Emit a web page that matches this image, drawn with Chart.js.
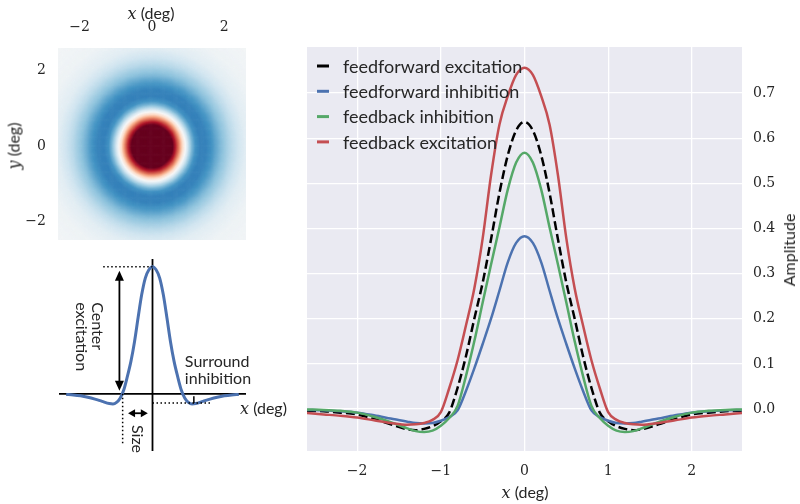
<!DOCTYPE html>
<html lang="en">
<head>
  <meta charset="UTF-8">
  <title>Center-surround receptive field profiles</title>
  <script src="https://cdn.jsdelivr.net/npm/chart.js"></script>
  <style>
    body {
      margin: 0;
      width: 800px;
      height: 504px;
      position: relative;
      overflow: hidden;
      background: #fff;
      font-family: Lato, sans-serif;
      color: #262626;
    }
    canvas { position: absolute; }
    .lbl {
      position: absolute;
      font-size: 16px;
      line-height: 1;
      white-space: nowrap;
    }
    .lbl i { font-family: "DejaVu Serif", serif; font-style: italic; }
  </style>
</head>
<body>
  <canvas id="heat" width="290" height="250" style="left:0;top:0"></canvas>
  <canvas id="schema" width="290" height="254" style="left:0;top:250px"></canvas>
  <canvas id="main" width="510" height="504" style="left:290px;top:0"></canvas>

  <!-- axis titles (math x/y in serif italic) -->
  <div class="lbl" style="left:151px;top:13px;transform:translate(-50%,-50%)"><i>x</i> (deg)</div>
  <div class="lbl" style="left:14px;top:146px;transform:translate(-50%,-50%) rotate(-90deg)"><i>y</i> (deg)</div>
  <div class="lbl" style="left:240px;top:408px;transform:translateY(-50%)"><i>x</i> (deg)</div>
  <div class="lbl" style="left:525px;top:492px;transform:translate(-50%,-50%)"><i>x</i> (deg)</div>
  <div class="lbl" style="left:789px;top:250px;transform:translate(-50%,-50%) rotate(-90deg)">Amplitude</div>

  <script>
    // ---- main panel data ----
    const xs = [-2.6, -2.4, -2.2, -2.0, -1.8, -1.6, -1.4, -1.3, -1.2, -1.1, -1.0, -0.9, -0.8, -0.7, -0.6, -0.5, -0.4, -0.3, -0.2, -0.1,
                0, 0.1, 0.2, 0.3, 0.4, 0.5, 0.6, 0.7, 0.8, 0.9, 1.0, 1.1, 1.2, 1.3, 1.4, 1.6, 1.8, 2.0, 2.2, 2.4, 2.6];
    const ffExcitation = [-0.004, -0.005, -0.008, -0.012, -0.022, -0.034, -0.045, -0.047, -0.044, -0.038, -0.027, -0.008, 0.047, 0.117, 0.200, 0.280, 0.376, 0.478, 0.562, 0.617,
                          0.636, 0.617, 0.562, 0.478, 0.376, 0.280, 0.200, 0.117, 0.047, -0.008, -0.027, -0.038, -0.044, -0.047, -0.045, -0.034, -0.022, -0.012, -0.008, -0.005, -0.004];
    const ffInhibition = [-0.002, -0.003, -0.005, -0.008, -0.014, -0.021, -0.028, -0.031, -0.032, -0.031, -0.026, -0.018, -0.003, 0.040, 0.090, 0.144, 0.200, 0.262, 0.325, 0.368,
                          0.383, 0.368, 0.325, 0.262, 0.200, 0.144, 0.090, 0.040, -0.003, -0.018, -0.026, -0.031, -0.032, -0.031, -0.028, -0.021, -0.014, -0.008, -0.005, -0.003, -0.002];
    const fbInhibition = [-0.001, -0.002, -0.004, -0.008, -0.017, -0.029, -0.043, -0.049, -0.051, -0.048, -0.037, -0.020, 0.007, 0.073, 0.150, 0.236, 0.320, 0.402, 0.486, 0.546,
                          0.568, 0.546, 0.486, 0.402, 0.320, 0.236, 0.150, 0.073, 0.007, -0.020, -0.037, -0.048, -0.051, -0.049, -0.043, -0.029, -0.017, -0.008, -0.004, -0.002, -0.001];
    const fbExcitation = [-0.009, -0.012, -0.015, -0.019, -0.025, -0.031, -0.035, -0.034, -0.031, -0.024, -0.007, 0.046, 0.108, 0.185, 0.267, 0.378, 0.518, 0.630, 0.693, 0.740,
                          0.756, 0.740, 0.693, 0.630, 0.518, 0.378, 0.267, 0.185, 0.108, 0.046, -0.007, -0.024, -0.031, -0.034, -0.035, -0.031, -0.025, -0.019, -0.015, -0.012, -0.009];
    const seriesNames = ["feedforward excitation", "feedforward inhibition", "feedback inhibition", "feedback excitation"];
    const mainXTicks = [-2, -1, 0, 1, 2];
    const mainYTicks = [0.0, 0.1, 0.2, 0.3, 0.4, 0.5, 0.6, 0.7];

    // ---- schematic profile (bottom left) ----
    const schemX = [-2.4, -2.2, -2.0, -1.8, -1.6, -1.4, -1.2, -1.1, -1.0, -0.9, -0.8, -0.7, -0.6, -0.5, -0.4, -0.3, -0.2, -0.1,
                    0, 0.1, 0.2, 0.3, 0.4, 0.5, 0.6, 0.7, 0.8, 0.9, 1.0, 1.1, 1.2, 1.4, 1.6, 1.8, 2.0, 2.2, 2.4];
    const schemY = [-0.005, -0.009, -0.016, -0.027, -0.042, -0.060, -0.077, -0.080, -0.068, -0.035, 0.030, 0.135, 0.255, 0.410, 0.600, 0.780, 0.910, 0.975,
                    1.0, 0.975, 0.910, 0.780, 0.600, 0.410, 0.255, 0.135, 0.030, -0.035, -0.068, -0.080, -0.077, -0.060, -0.042, -0.027, -0.016, -0.009, -0.005];

    // ---- heat map (top left): radial profile in colour-map units ----
    const heatRadius = [0, 0.50, 0.57, 0.65, 0.75, 0.85, 0.92, 1.00, 1.10, 1.20, 1.33, 1.50, 1.70, 1.90, 2.20, 2.60, 3.00, 3.80];
    const heatLevel  = [3.0, 1.10, 1.00, 0.80, 0.50, 0.18, 0.00, -0.22, -0.45, -0.60, -0.68, -0.67, -0.57, -0.44, -0.27, -0.11, -0.05, -0.02];
    const heatTicks = [-2, 0, 2];

    const TEXT = "#262626";
    const tickFont = { family: "DejaVu Serif", size: 14 };
    const minus = v => String(v).replace("-", "\u2212");

    // RdBu_r colour map
    const rdbuStops = ["#053061", "#2166ac", "#4393c3", "#92c5de", "#d1e5f0", "#f7f7f7",
                       "#fddbc7", "#f4a582", "#d6604d", "#b2182b", "#67001f"];
    const stopsRgb = rdbuStops.map(h => [1, 3, 5].map(i => parseInt(h.substr(i, 2), 16)));
    function rdbu(v) {
      v = Math.max(-1, Math.min(1, v));
      const t = (v + 1) / 2 * (stopsRgb.length - 1);
      const i = Math.min(Math.floor(t), stopsRgb.length - 2);
      const f = t - i;
      const a = stopsRgb[i], b = stopsRgb[i + 1];
      return "rgb(" + a.map((c, k) => Math.round(c + (b[k] - c) * f)).join(",") + ")";
    }
    function levelAt(r) {
      for (let i = 1; i < heatRadius.length; i++) {
        if (r <= heatRadius[i]) {
          const f = (r - heatRadius[i - 1]) / (heatRadius[i] - heatRadius[i - 1]);
          return heatLevel[i - 1] + f * (heatLevel[i] - heatLevel[i - 1]);
        }
      }
      return heatLevel[heatLevel.length - 1];
    }

    // Heat map cells, placed through the chart scales
    const heatPlugin = {
      id: "heatCells",
      beforeDatasetsDraw(chart) {
        const { ctx, chartArea: a, scales: { x, y } } = chart;
        const step = 0.03;
        ctx.save();
        ctx.beginPath();
        ctx.rect(a.left, a.top, a.right - a.left, a.bottom - a.top);
        ctx.clip();
        for (let gx = x.min; gx < x.max; gx += step) {
          const px0 = x.getPixelForValue(gx), px1 = x.getPixelForValue(gx + step);
          for (let gy = y.min; gy < y.max; gy += step) {
            const py0 = y.getPixelForValue(gy + step), py1 = y.getPixelForValue(gy);
            ctx.fillStyle = rdbu(levelAt(Math.hypot(gx + step / 2, gy + step / 2)));
            ctx.fillRect(px0, py0, px1 - px0 + 0.6, py1 - py0 + 0.6);
          }
        }
        ctx.restore();
      }
    };

    new Chart(document.getElementById("heat"), {
      type: "scatter",
      data: { datasets: [] },
      options: {
        responsive: false,
        animation: false,
        layout: { padding: { left: 0, top: 0, right: 44, bottom: 10 } },
        plugins: { legend: { display: false }, tooltip: { enabled: false } },
        scales: {
          x: {
            type: "linear", position: "top", min: -2.6, max: 2.6,
            afterBuildTicks: s => { s.ticks = heatTicks.map(v => ({ value: v })); },
            afterFit: s => { s.height = 48; s.paddingLeft = 0; s.paddingRight = 0; },
            grid: { display: false, drawTicks: false }, border: { display: false },
            ticks: { padding: 12, color: TEXT, font: tickFont, callback: v => minus(v) }
          },
          y: {
            type: "linear", position: "left", min: -2.5, max: 2.6,
            afterBuildTicks: s => { s.ticks = heatTicks.map(v => ({ value: v })); },
            afterFit: s => { s.width = 58; s.paddingTop = 0; s.paddingBottom = 0; },
            grid: { display: false, drawTicks: false }, border: { display: false },
            ticks: { padding: 12, color: TEXT, font: tickFont, callback: v => minus(v) }
          }
        }
      },
      plugins: [heatPlugin]
    });

    // ---- schematic annotations ----
    function arrowHead(ctx, x, y, dx, dy, len, half) {
      ctx.beginPath();
      ctx.moveTo(x, y);
      ctx.lineTo(x - dx * len - dy * half, y - dy * len + dx * half);
      ctx.lineTo(x - dx * len + dy * half, y - dy * len - dx * half);
      ctx.closePath();
      ctx.fill();
    }
    function line(ctx, x0, y0, x1, y1, dash) {
      ctx.setLineDash(dash || []);
      ctx.beginPath(); ctx.moveTo(x0, y0); ctx.lineTo(x1, y1); ctx.stroke();
    }
    const schemAxes = {
      id: "schemAxes",
      beforeDatasetsDraw(chart) {
        const { ctx, chartArea: a, scales: { x, y } } = chart;
        ctx.save();
        ctx.strokeStyle = "#000";
        ctx.lineWidth = 1.8;
        line(ctx, a.left, y.getPixelForValue(0), a.right, y.getPixelForValue(0));
        line(ctx, x.getPixelForValue(0), a.top, x.getPixelForValue(0), a.bottom);
        ctx.restore();
      },
      afterDatasetsDraw(chart) {
        const { ctx, scales: { x, y } } = chart;
        const peak = Math.max(...schemY), trough = Math.min(...schemY);
        const X = v => x.getPixelForValue(v), Y = v => y.getPixelForValue(v);
        ctx.save();
        ctx.strokeStyle = "#000";
        ctx.fillStyle = "#000";
        ctx.lineWidth = 1.5;
        const dots = [1.5, 2.5];
        // dotted guides
        line(ctx, X(-1.37), Y(peak), X(0), Y(peak), dots);
        line(ctx, X(-0.83), Y(0), X(-0.83), Y(-0.39), dots);
        line(ctx, X(0), Y(trough) - 1, X(1.6), Y(trough) - 1, dots);
        ctx.setLineDash([]);
        line(ctx, X(1.15), Y(-0.02), X(1.15), Y(trough) - 1);
        // vertical double arrow (center excitation)
        ctx.lineWidth = 1.8;
        const ax = X(-0.92), top = Y(peak) + 4, bot = Y(0) - 3;
        line(ctx, ax, top + 8, ax, bot - 8);
        arrowHead(ctx, ax, top, 0, -1, 10, 4.5);
        arrowHead(ctx, ax, bot, 0, 1, 10, 4.5);
        // horizontal double arrow (size)
        const sy = Y(-0.153), sl = X(-0.68), sr = X(-0.13);
        line(ctx, sl + 6, sy, sr - 6, sy);
        arrowHead(ctx, sl, sy, -1, 0, 7, 4);
        arrowHead(ctx, sr, sy, 1, 0, 7, 4);
        // texts
        ctx.fillStyle = TEXT;
        ctx.font = "16px Lato";
        ctx.textBaseline = "middle";
        ctx.textAlign = "left";
        ctx.fillText("Surround", X(0.9), Y(0.25));
        ctx.fillText("inhibition", X(0.9), Y(0.12));
        const rot = (txt, px, py) => {
          ctx.save(); ctx.translate(px, py); ctx.rotate(Math.PI / 2);
          ctx.fillText(txt, 0, 0); ctx.restore();
        };
        rot("Center", X(-1.54), Y(0.72));
        rot("excitation", X(-1.98), Y(0.72));
        rot("Size", X(-0.43), Y(-0.245));
        ctx.restore();
      }
    };

    new Chart(document.getElementById("schema"), {
      type: "line",
      data: {
        datasets: [{
          data: schemX.map((v, i) => ({ x: v, y: schemY[i] })),
          borderColor: "#4c72b0", borderWidth: 3, pointRadius: 0,
          cubicInterpolationMode: "monotone", fill: false
        }]
      },
      options: {
        responsive: false,
        animation: false,
        layout: { padding: { left: 59, top: 9, right: 44, bottom: 53 } },
        plugins: { legend: { display: false }, tooltip: { enabled: false } },
        scales: {
          x: { type: "linear", display: false, min: -2.6, max: 2.6 },
          y: { type: "linear", display: false, min: -0.45, max: 1.06 }
        }
      },
      plugins: [schemAxes]
    });

    // ---- main panel ----
    const bgPlugin = {
      id: "areaBg",
      beforeDraw(chart) {
        const { ctx, chartArea: a } = chart;
        ctx.save();
        ctx.fillStyle = "#eaeaf2";
        ctx.fillRect(a.left, a.top, a.right - a.left, a.bottom - a.top);
        ctx.restore();
      }
    };
    const inlineLegend = {
      id: "inlineLegend",
      afterDatasetsDraw(chart) {
        const { ctx, chartArea: a } = chart;
        ctx.save();
        ctx.font = "18px Lato";
        ctx.textBaseline = "middle";
        ctx.textAlign = "left";
        chart.data.datasets.forEach((ds, i) => {
          const y = a.top + 19 + i * 25.3;
          ctx.strokeStyle = ds.borderColor;
          ctx.lineWidth = 3;
          ctx.setLineDash([]);
          ctx.beginPath();
          ctx.moveTo(a.left + 10, y);
          ctx.lineTo(a.left + 22, y);
          ctx.stroke();
          ctx.fillStyle = TEXT;
          ctx.fillText(ds.label, a.left + 36, y + 1);
        });
        ctx.restore();
      }
    };

    const pts = ys => xs.map((x, i) => ({ x: x, y: ys[i] }));
    new Chart(document.getElementById("main"), {
      type: "line",
      data: {
        datasets: [
          { label: seriesNames[0], data: pts(ffExcitation), borderColor: "#000000", borderDash: [9, 4], order: 3 },
          { label: seriesNames[1], data: pts(ffInhibition), borderColor: "#4c72b0", order: 2 },
          { label: seriesNames[2], data: pts(fbInhibition), borderColor: "#55a868", order: 1 },
          { label: seriesNames[3], data: pts(fbExcitation), borderColor: "#c44e52", order: 0 }
        ]
      },
      options: {
        responsive: false,
        animation: false,
        layout: { padding: { left: 17, top: 47, right: 0, bottom: 0 } },
        elements: {
          point: { radius: 0 },
          line: { borderWidth: 2.5, cubicInterpolationMode: "monotone", fill: false }
        },
        plugins: { legend: { display: false }, tooltip: { enabled: false } },
        scales: {
          x: {
            type: "linear", min: -2.6, max: 2.6,
            afterBuildTicks: s => { s.ticks = mainXTicks.map(v => ({ value: v })); },
            afterFit: s => { s.height = 53; },
            grid: { color: "#ffffff", lineWidth: 1.3, drawTicks: false },
            border: { display: false },
            ticks: { padding: 12, color: TEXT, font: tickFont, callback: v => minus(v) }
          },
          y: {
            type: "linear", position: "right", min: -0.093, max: 0.802,
            afterBuildTicks: s => { s.ticks = mainYTicks.map(v => ({ value: v })); },
            afterFit: s => { s.width = 58; s.paddingTop = 0; s.paddingBottom = 0; },
            grid: { color: "#ffffff", lineWidth: 1.3, drawTicks: false },
            border: { display: false },
            ticks: { padding: 11, color: TEXT, font: tickFont, callback: v => Number(v).toFixed(1) }
          }
        }
      },
      plugins: [bgPlugin, inlineLegend]
    });
  </script>
</body>
</html>
